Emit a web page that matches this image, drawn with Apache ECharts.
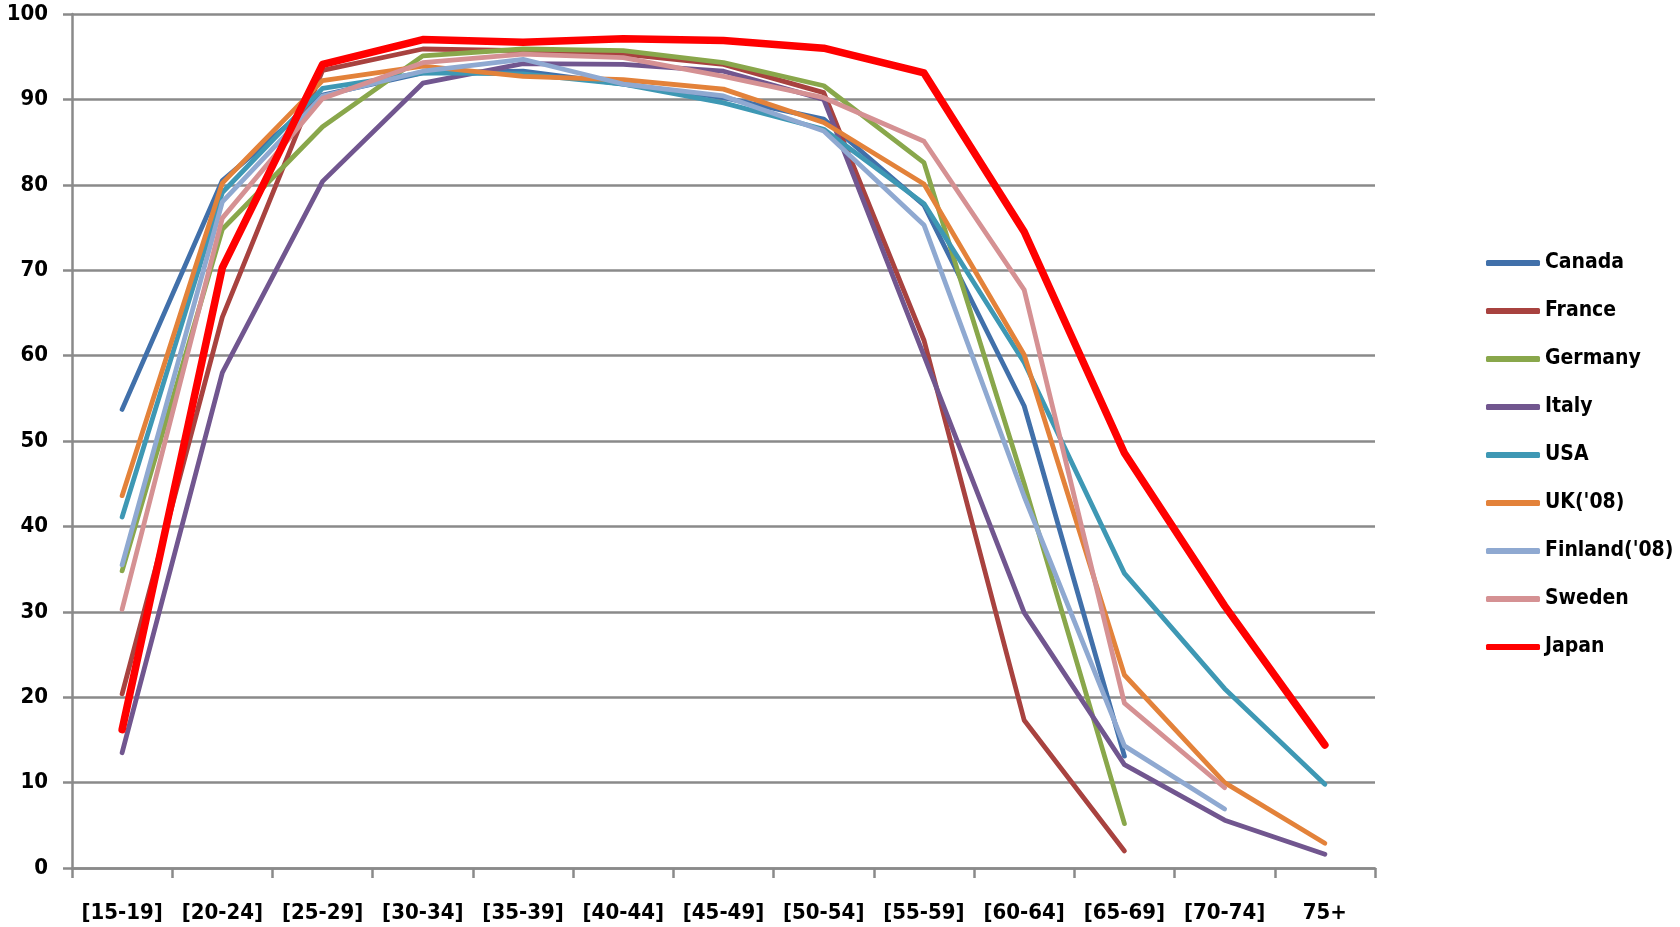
<!DOCTYPE html>
<html>
<head>
<meta charset="utf-8">
<script src="https://cdn.jsdelivr.net/npm/echarts@6/dist/echarts.min.js"></script>
<style>
html,body{margin:0;padding:0;background:#fff;}
#chart{width:1680px;height:927px;}
</style>
</head>
<body>
<div id="chart"></div>
<script>
var categories = ['[15-19]','[20-24]','[25-29]','[30-34]','[35-39]','[40-44]','[45-49]','[50-54]','[55-59]','[60-64]','[65-69]','[70-74]','75+'];
var yTicks = [0,10,20,30,40,50,60,70,80,90,100];

var canada  = [53.7, 80.5, 90.5, 93.1, 93.3, 91.8, 90.2, 87.7, 77.6, 54.1, 13.1, null, null];
var france  = [20.4, 64.5, 93.4, 95.9, 95.7, 95.3, 94.1, 90.8, 61.8, 17.3, 2.0, null, null];
var germany = [34.8, 74.8, 86.8, 95.1, 95.9, 95.7, 94.3, 91.6, 82.6, 45.0, 5.2, null, null];
var italy   = [13.5, 58.0, 80.4, 91.9, 94.2, 94.1, 93.3, 90.0, 60.0, 29.9, 12.1, 5.6, 1.6];
var usa     = [41.1, 79.1, 91.3, 93.1, 93.0, 91.8, 89.6, 86.5, 77.8, 59.2, 34.5, 21.0, 9.8];
var uk      = [43.6, 80.2, 92.2, 93.9, 92.7, 92.3, 91.2, 87.3, 80.1, 60.1, 22.6, 10.0, 2.9];
var finland = [35.5, 78.0, 90.4, 93.3, 94.7, 91.8, 90.4, 86.3, 75.3, 43.5, 14.3, 6.9, null];
var sweden  = [30.3, 76.1, 90.1, 94.3, 95.3, 94.9, 92.7, 90.2, 85.1, 67.7, 19.3, 9.4, null];
var japan   = [16.2, 70.3, 94.1, 97.0, 96.7, 97.1, 96.9, 96.0, 93.1, 74.5, 48.6, 30.7, 14.4];

var seriesNames = ['Canada','France','Germany','Italy','USA',"UK('08)","Finland('08)",'Sweden','Japan'];
var seriesData = [canada, france, germany, italy, usa, uk, finland, sweden, japan];
var seriesColors = ['#4170AA','#A8423F','#89A74B','#71568F','#3E98B4','#E3823A','#8FA9D1','#D59193','#FF0000'];
var seriesWidths = [4.8,4.8,4.8,4.8,4.8,4.8,4.8,4.8,7.5];

var font = '"DejaVu Sans Condensed", "DejaVu Sans", sans-serif';
var gridColor = '#8A8A8A';

var chart = echarts.init(document.getElementById('chart'), null, {renderer:'canvas'});
var series = seriesNames.map(function(n, i){
  return {
    name: n,
    type: 'line',
    data: seriesData[i],
    showSymbol: false,
    symbol: 'none',
    connectNulls: false,
    z: 2 + i,
    lineStyle: {color: seriesColors[i], width: seriesWidths[i], cap: 'round', join: 'round'},
    itemStyle: {color: seriesColors[i]},
    emphasis: {disabled: true},
    animation: false
  };
});

chart.setOption({
  animation: false,
  backgroundColor: '#ffffff',
  grid: {left: 72, right: 305, top: 14, bottom: 59, containLabel: false},
  legend: {
    orient: 'vertical',
    left: 1481,
    top: 246,
    icon: 'roundRect',
    itemWidth: 54,
    itemHeight: 6,
    itemGap: 24,
    data: seriesNames,
    textStyle: {fontFamily: font, fontWeight: 'bold', fontSize: 21, color: '#000', lineHeight: 24},
    selectedMode: false
  },
  xAxis: {
    type: 'category',
    data: categories,
    boundaryGap: true,
    axisLine: {show: true, lineStyle: {color: gridColor, width: 2.5}},
    axisTick: {show: true, length: 10, inside: false, lineStyle: {color: gridColor, width: 2.5}},
    axisLabel: {interval: 0, margin: 34, fontFamily: font, fontWeight: 'bold', fontSize: 22, color: '#000'},
    splitLine: {show: false}
  },
  yAxis: {
    type: 'value',
    min: yTicks[0],
    max: yTicks[yTicks.length - 1],
    interval: yTicks[1] - yTicks[0],
    axisLine: {show: true, lineStyle: {color: gridColor, width: 2.5}},
    axisTick: {show: true, length: 9, lineStyle: {color: gridColor, width: 2.5}},
    axisLabel: {margin: 24, fontFamily: font, fontWeight: 'bold', fontSize: 22, color: '#000'},
    splitLine: {show: true, lineStyle: {color: gridColor, width: 2.5}}
  },
  series: series
});
</script>
</body>
</html>
